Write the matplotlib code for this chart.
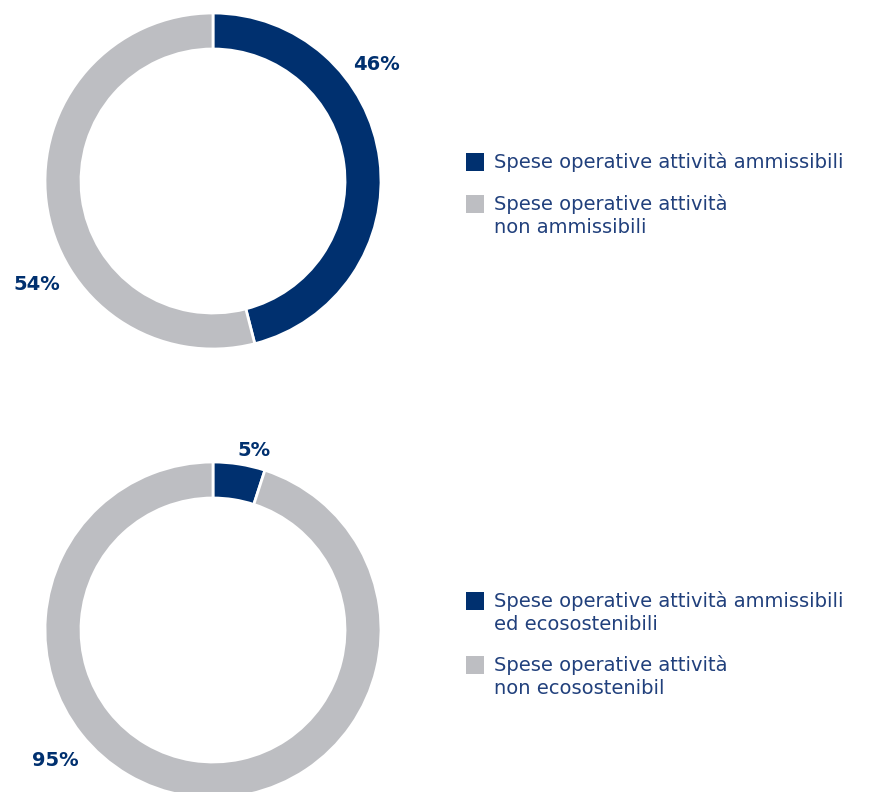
import matplotlib
matplotlib.use("Agg")
import matplotlib.pyplot as plt
from matplotlib.patches import Rectangle

# Data
top_labels = ["Spese operative attività ammissibili", "Spese operative attività\nnon ammissibili"]
top_values = [46, 54]
bottom_labels = ["Spese operative attività ammissibili\ned ecosostenibili", "Spese operative attività\nnon ecosostenibil"]
bottom_values = [5, 95]

NAVY = "#00306F"
GRAY = "#BDBEC2"
TEXT = "#21407C"
colors = [NAVY, GRAY]

W, H = 874, 792
fig = plt.figure(figsize=(W / 100, H / 100), dpi=100)
ax = fig.add_axes([0, 0, 1, 1])

FONT = "DejaVu Sans"

def donut(values, cy, pct_pos):
    # y axis is inverted, so counterclock=True draws visually clockwise
    ax.pie(values, colors=colors, center=(213, cy), radius=168,
           startangle=-90, counterclock=True, frame=True,
           wedgeprops=dict(width=36, edgecolor="white", linewidth=2))
    for v, (x, y) in zip(values, pct_pos):
        ax.text(x, y, f"{v}%", ha="center", va="center", fontsize=14,
                fontweight="bold", color=NAVY, family=FONT)

donut(top_values, 181, [(376, 65), (37, 284)])
donut(bottom_values, 630, [(254, 451), (55, 760)])
ax.set_xlim(0, W)
ax.set_ylim(H, 0)
ax.set_aspect("equal")
ax.axis("off")

def legend(labels, ys):
    for lab, c, y in zip(labels, colors, ys):
        ax.add_patch(Rectangle((466, y - 9), 18, 18, facecolor=c, edgecolor="none"))
        ax.text(494, y - 10, lab, ha="left", va="top", fontsize=14, color=TEXT,
                family=FONT, linespacing=1.28)

legend(top_labels, [162, 204])
legend(bottom_labels, [601, 665])

fig.savefig("out.png", dpi=100)
